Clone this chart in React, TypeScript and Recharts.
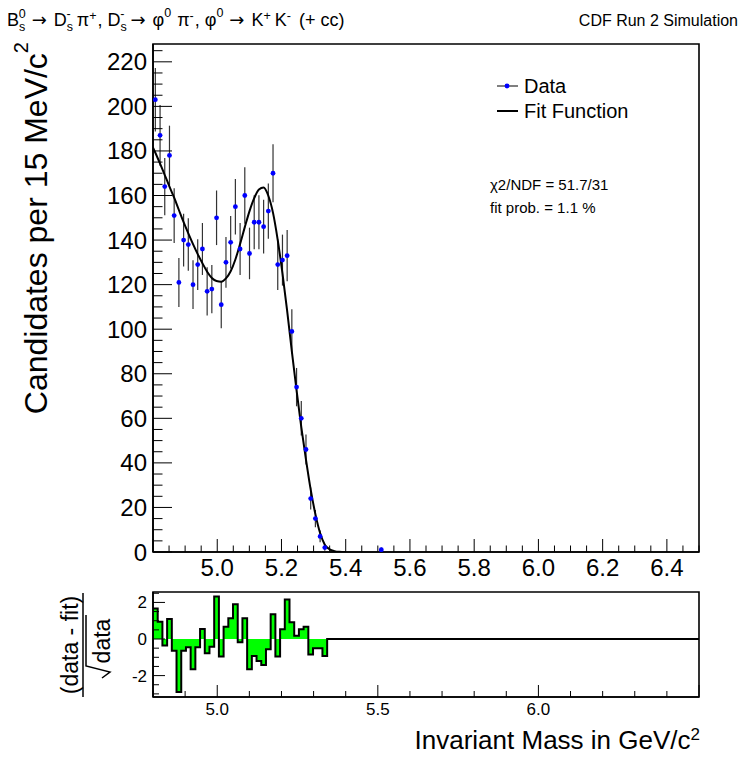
import React from "react";
import {
  ComposedChart,
  Scatter,
  Line,
  Area,
  XAxis,
  YAxis,
  ErrorBar,
  ReferenceArea,
  Legend,
} from "recharts";

const FONT = "'Liberation Sans', Arial, Helvetica, sans-serif";
const ARROW_FONT = "'DejaVu Sans', sans-serif";

// histogram binning: 116 bins between 4.8 and 6.5 GeV/c^2
const massMin = 4.8;
const massMax = 6.5;
const nBins = 116;
const binWidth = (massMax - massMin) / nBins;

// filled bins (bin centres, GeV/c^2) and candidate counts
const binMass = [
  4.8073, 4.822, 4.8366, 4.8513, 4.8659, 4.8806, 4.8953, 4.9099, 4.9246, 4.9392,
  4.9539, 4.9686, 4.9832, 4.9979, 5.0125, 5.0272, 5.0418, 5.0565, 5.0712, 5.0858,
  5.1005, 5.1151, 5.1298, 5.1444, 5.1591, 5.1737, 5.1884, 5.2031, 5.2177, 5.2323,
  5.247, 5.2617, 5.2763, 5.291, 5.3056, 5.3203, 5.3349, 5.5108,
];
const binCounts = [
  203, 187, 164, 178, 151, 121, 140, 138, 120, 129,
  136, 117, 118, 150, 111, 130, 139, 155, 136, 160,
  134, 148, 148, 146, 153, 170, 129, 131, 133, 99,
  74, 60, 46, 24, 15, 7, 2, 1,
];

// fit function sampled along the mass axis
const fitMass = [
  4.8, 4.8073, 4.822, 4.8366, 4.8513, 4.8659, 4.8806, 4.8953, 4.9099, 4.9246,
  4.9392, 4.9539, 4.9686, 4.9832, 4.9979, 5.0125, 5.0272, 5.0418, 5.0565, 5.0712,
  5.0858, 5.1005, 5.1151, 5.1298, 5.1444, 5.1591, 5.1737, 5.1884, 5.2031, 5.2177,
  5.2323, 5.247, 5.2617, 5.2763, 5.291, 5.3056, 5.3203, 5.3349, 5.35, 5.365,
  5.38, 5.4,
];
const fitValues = [
  181.5, 179.2, 174.3, 169.2, 164.0, 159.0, 153.5, 148.0, 143.0, 138.2,
  133.7, 129.6, 125.8, 123.0, 121.6, 121.3, 122.8, 126.0, 131.3, 138.3,
  145.8, 153.0, 158.8, 162.7, 163.6, 159.9, 152.2, 140.0, 125.0, 108.2,
  90.0, 72.5, 56.0, 41.5, 28.0, 17.0, 8.5, 3.3, 1.2, 0.4,
  0.1, 0,
];

// (data - fit) / sqrt(data) for the first bins, zero for the rest
const pulls = [
  1.67, 0.95, -0.36, 1.09, -0.64, -2.9, -0.64, -0.45, -1.65, -0.45,
  0.55, -0.78, -0.42, 2.33, -0.96, 0.67, 1.13, 1.9, -0.18, 1.13,
  -1.65, -0.93, -1.2, -1.42, -0.56, 1.36, -0.96, 0.53, 2.16, 0.91,
  0.18, 0.53, 0.67, -0.85, -0.51, -0.51, -0.93,
];

const legendItems = ["Data", "Fit Function"];
const fitStats = ["\u03c72/NDF = 51.7/31", "fit prob. = 1.1 %"];

const pointData = binMass.map((m, i) => ({
  m,
  v: binCounts[i],
  err: Math.sqrt(binCounts[i]),
}));
const fitData = fitMass.map((m, i) => ({ m, v: fitValues[i] }));
const pullData = [
  ...pulls.map((r, i) => ({ m: massMin + i * binWidth, r })),
  { m: massMin + pulls.length * binWidth, r: 0 },
  { m: massMax, r: 0 },
];

const mainXTicks = Array.from({ length: 35 }, (_, k) => +(4.8 + k * 0.05).toFixed(2));
const mainYTicks = Array.from({ length: 46 }, (_, k) => k * 5);
const pullXTicks = Array.from({ length: 18 }, (_, k) => +(4.8 + k * 0.1).toFixed(1));
const pullYTicks = Array.from({ length: 12 }, (_, k) => -3 + k * 0.5);

const isOnStep = (v: number, step: number) =>
  Math.abs(v / step - Math.round(v / step)) < 1e-6;

const MainXTick = (props: any) => {
  const { x, y, payload } = props;
  const v = payload.value as number;
  const major = isOnStep(v, 0.2);
  return (
    <g>
      <line x1={x} y1={y} x2={x} y2={y - (major ? 13 : 6.5)} stroke="#000" />
      {major && v > 4.9 && v < 6.45 && (
        <text x={x} y={y + 24} textAnchor="middle" fontSize={24} fontFamily={FONT} fill="#000">
          {v.toFixed(1)}
        </text>
      )}
    </g>
  );
};

const MainYTick = (props: any) => {
  const { x, y, payload } = props;
  const v = payload.value as number;
  const major = isOnStep(v, 20);
  return (
    <g>
      <line x1={x} y1={y} x2={x + (major ? 19 : 9.5)} y2={y} stroke="#000" />
      {major && (
        <text x={x - 6} y={y + 8.5} textAnchor="end" fontSize={24} fontFamily={FONT} fill="#000">
          {v}
        </text>
      )}
    </g>
  );
};

const PullXTick = (props: any) => {
  const { x, y, payload } = props;
  const v = payload.value as number;
  const major = isOnStep(v, 0.5);
  return (
    <g>
      <line x1={x} y1={y} x2={x} y2={y - (major ? 12 : 6)} stroke="#000" />
      {major && v < 6.45 && (
        <text x={x} y={y + 18} textAnchor="middle" fontSize={17} fontFamily={FONT} fill="#000">
          {v.toFixed(1)}
        </text>
      )}
    </g>
  );
};

const PullYTick = (props: any) => {
  const { x, y, payload } = props;
  const v = payload.value as number;
  const major = isOnStep(v, 2);
  return (
    <g>
      <line x1={x} y1={y} x2={x + (major ? 12 : 6)} y2={y} stroke="#000" />
      {major && (
        <text x={x - 6} y={y + 6} textAnchor="end" fontSize={17} fontFamily={FONT} fill="#000">
          {String(Math.round(v))}
        </text>
      )}
    </g>
  );
};

const renderDot = (props: any) => (
  <circle cx={props.cx} cy={props.cy} r={2.4} fill="#0000ff" />
);

const renderMainYTitle = () => (
  <text
    x={47}
    y={42}
    transform="rotate(-90, 47, 42)"
    textAnchor="end"
    fontSize={32}
    fontFamily={FONT}
    fill="#000"
  >
    Candidates per 15 MeV/c
    <tspan dy={-19} fontSize={20}>2</tspan>
  </text>
);

const renderPullYTitle = () => (
  <g fontFamily={FONT} fill="#000">
    <text x={78} y={65} transform="rotate(-90, 78, 65)" textAnchor="middle" fontSize={23}>
      (data - fit)
    </text>
    <line x1={83} y1={13} x2={83} y2={117} stroke="#000" strokeWidth={1.5} />
    <text x={110} y={61} transform="rotate(-90, 110, 61)" textAnchor="middle" fontSize={23}>
      data
    </text>
    <path d="M 86 35 L 86 86 L 110 92 L 102 98" fill="none" stroke="#000" strokeWidth={1.5} />
  </g>
);

const renderXTitle = () => (
  <text x={700} y={169} textAnchor="end" fontSize={26} fontFamily={FONT} fill="#000">
    Invariant Mass in GeV/c
    <tspan dy={-9} fontSize={17}>2</tspan>
  </text>
);

const renderLegend = () => (
  <svg width={742} height={240} style={{ display: "block" }} fontFamily={FONT}>
    {legendItems.map((item, i) => {
      const rowY = 86 + i * 25;
      return (
        <g key={item}>
          <line x1={497} y1={rowY} x2={518} y2={rowY} stroke="#000" strokeWidth={i === 0 ? 1 : 2} />
          {i === 0 && <circle cx={507} cy={rowY} r={2.4} fill="#0000ff" />}
          <text x={524} y={rowY + 7} fontSize={20} fill="#000">
            {item}
          </text>
        </g>
      );
    })}
    {fitStats.map((s, i) => (
      <text key={s} x={490} y={190 + i * 23} fontSize={15} fill="#000">
        {s}
      </text>
    ))}
  </svg>
);

const axisLine = { stroke: "#000", strokeWidth: 1.6 };

const App = () => {
  return (
    <div
      style={{
        position: "absolute",
        left: 0,
        top: 0,
        width: 742,
        height: 761,
        background: "#fff",
        fontFamily: FONT,
      }}
    >
      <div style={{ position: "absolute", left: 0, top: 0 }}>
        <ComposedChart width={742} height={580} margin={{ top: 44, right: 43, bottom: 0, left: 93 }}>
          <XAxis
            type="number"
            dataKey="m"
            domain={[massMin, massMax]}
            allowDataOverflow
            ticks={mainXTicks}
            interval={0}
            tickSize={0}
            tickMargin={0}
            height={28}
            tick={MainXTick}
            tickLine={false}
            axisLine={axisLine}
          />
          <YAxis
            type="number"
            domain={[0, 228]}
            allowDataOverflow
            ticks={mainYTicks}
            interval={0}
            tickSize={0}
            tickMargin={0}
            width={60}
            tick={MainYTick}
            tickLine={false}
            axisLine={axisLine}
            label={renderMainYTitle}
          />
          <ReferenceArea x1={massMin} x2={massMax} y1={0} y2={228} fill="none" stroke="#000" strokeWidth={1.6} />
          <Scatter name="Data" data={pointData} dataKey="v" shape={renderDot} isAnimationActive={false}>
            <ErrorBar dataKey="err" direction="y" width={0} stroke="#333" strokeWidth={1.2} />
          </Scatter>
          <Line
            name="Fit Function"
            data={fitData}
            dataKey="v"
            type="monotone"
            stroke="#000"
            strokeWidth={2}
            dot={false}
            activeDot={false}
            isAnimationActive={false}
          />
          <Legend
            verticalAlign="middle"
            align="center"
            layout="horizontal"
            wrapperStyle={{ left: 0, top: 0, width: 742, height: 240, pointerEvents: "none" }}
            content={renderLegend}
          />
        </ComposedChart>
      </div>

      <div style={{ position: "absolute", left: 0, top: 580 }}>
        <ComposedChart
          width={742}
          height={181}
          data={pullData}
          margin={{ top: 12, right: 43, bottom: 0, left: 93 }}
        >
          <XAxis
            type="number"
            dataKey="m"
            domain={[massMin, massMax]}
            allowDataOverflow
            ticks={pullXTicks}
            interval={0}
            tickSize={0}
            tickMargin={0}
            height={64}
            tick={PullXTick}
            tickLine={false}
            axisLine={axisLine}
            label={renderXTitle}
          />
          <YAxis
            type="number"
            domain={[-3.17, 2.57]}
            allowDataOverflow
            ticks={pullYTicks}
            interval={0}
            tickSize={0}
            tickMargin={0}
            width={60}
            tick={PullYTick}
            tickLine={false}
            axisLine={axisLine}
            label={renderPullYTitle}
          />
          <Area
            type="stepAfter"
            dataKey="r"
            baseValue={0}
            stroke="#000"
            strokeWidth={2}
            fill="#00ff00"
            fillOpacity={1}
            dot={false}
            activeDot={false}
            isAnimationActive={false}
          />
          <ReferenceArea x1={massMin} x2={massMax} y1={-3.17} y2={2.57} fill="none" stroke="#000" strokeWidth={1.6} />
        </ComposedChart>
      </div>

      <svg
        width={742}
        height={40}
        style={{ position: "absolute", left: 0, top: 0, pointerEvents: "none" }}
        fontFamily={FONT}
        fill="#000"
      >
        <text x={7} y={26} fontSize={18}>
          B<tspan dy={5} fontSize={12.5}>s</tspan>
          <tspan dx={-6.5} dy={-13} fontSize={12.5}>0</tspan>
          <tspan dx={6} dy={8} fontFamily={ARROW_FONT}>{"\u2192"}</tspan>
          <tspan dx={7}>D</tspan>
          <tspan dy={5} fontSize={12.5}>s</tspan>
          <tspan dx={-6.5} dy={-13} fontSize={12.5}>-</tspan>
          <tspan dx={6} dy={8}>{"\u03c0"}</tspan>
          <tspan dy={-6} fontSize={12.5}>+</tspan>
          <tspan dx={1} dy={6}>{", D"}</tspan>
          <tspan dy={5} fontSize={12.5}>s</tspan>
          <tspan dx={-6.5} dy={-13} fontSize={12.5}>-</tspan>
          <tspan dx={6} dy={8} fontFamily={ARROW_FONT}>{"\u2192"}</tspan>
          <tspan dx={7}>{"\u03c6"}</tspan>
          <tspan dy={-9} fontSize={12.5}>0</tspan>
          <tspan dx={6} dy={9}>{"\u03c0"}</tspan>
          <tspan dy={-6} fontSize={12.5}>-</tspan>
          <tspan dx={1} dy={6}>{", \u03c6"}</tspan>
          <tspan dy={-9} fontSize={12.5}>0</tspan>
          <tspan dx={6} dy={9} fontFamily={ARROW_FONT}>{"\u2192"}</tspan>
          <tspan dx={7}>K</tspan>
          <tspan dy={-6} fontSize={12.5}>+</tspan>
          <tspan dx={4} dy={6}>K</tspan>
          <tspan dy={-6} fontSize={12.5}>-</tspan>
          <tspan dx={3} dy={6}>{" (+ cc)"}</tspan>
        </text>
        <text x={738} y={26} fontSize={16} textAnchor="end">
          CDF Run 2 Simulation
        </text>
      </svg>
    </div>
  );
};

export default App;
